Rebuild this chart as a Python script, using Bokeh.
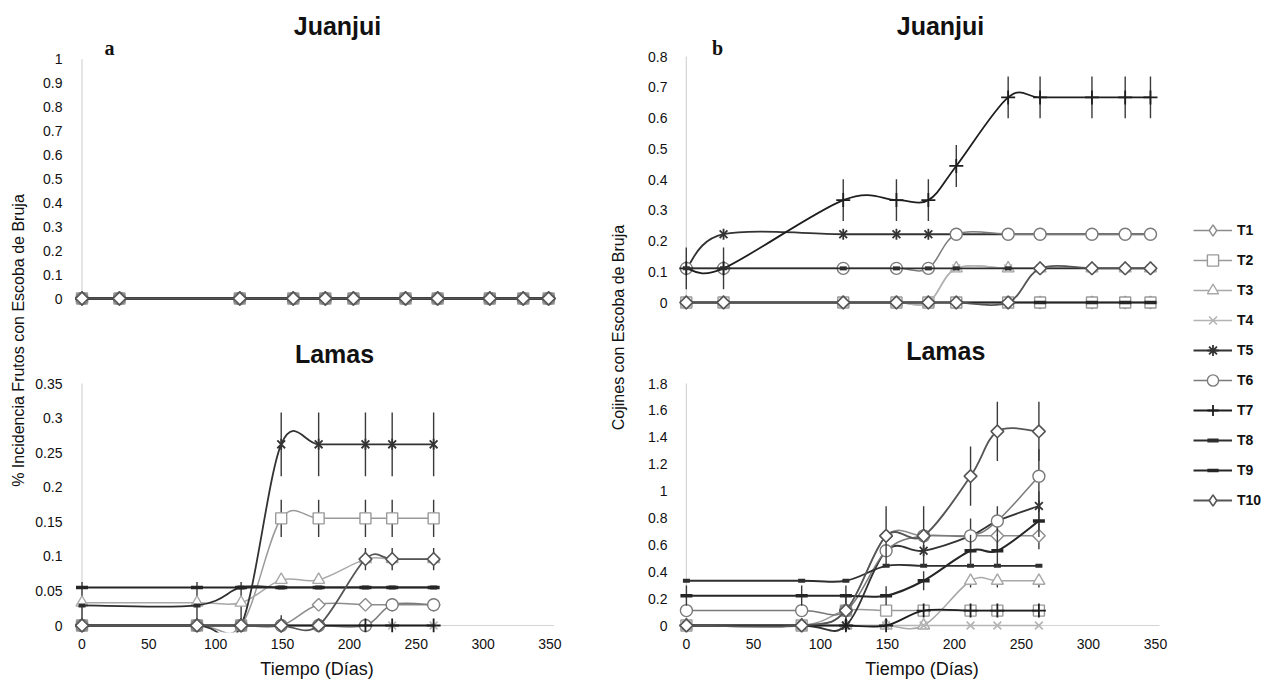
import math
from bokeh.plotting import figure
from bokeh.layouts import row, column
from bokeh.models import Range1d, FixedTicker, NumeralTickFormatter, Label, Legend, LegendItem
from bokeh.embed import file_html
from bokeh.resources import INLINE

# ---------------------------------------------------------------- data
SERIES = ["T1", "T2", "T3", "T4", "T5", "T6", "T7", "T8", "T9", "T10"]

DAYS_JUANJUI = [0, 28, 118, 158, 182, 203, 242, 266, 305, 330, 349]
DAYS_LAMAS = [0, 86, 119, 149, 177, 212, 232, 263]

# (a) % Incidencia frutos con escoba de bruja - Juanjui (T1..T10)
A_JUANJUI = [
    [0, 0, 0, 0, 0, 0, 0, 0, 0, 0, 0],
    [0, 0, 0, 0, 0, 0, 0, 0, 0, 0, 0],
    [0, 0, 0, 0, 0, 0, 0, 0, 0, 0, 0],
    [0, 0, 0, 0, 0, 0, 0, 0, 0, 0, 0],
    [0, 0, 0, 0, 0, 0, 0, 0, 0, 0, 0],
    [0, 0, 0, 0, 0, 0, 0, 0, 0, 0, 0],
    [0, 0, 0, 0, 0, 0, 0, 0, 0, 0, 0],
    [0, 0, 0, 0, 0, 0, 0, 0, 0, 0, 0],
    [0, 0, 0, 0, 0, 0, 0, 0, 0, 0, 0],
    [0, 0, 0, 0, 0, 0, 0, 0, 0, 0, 0],
]
A_JUANJUI_ERR = [
    [0, 0, 0, 0, 0, 0, 0, 0, 0, 0, 0] for _ in range(10)
]

# (a) Lamas
A_LAMAS = [
    [0, 0, 0, 0, 0.03, 0.03, 0.03, 0.03],
    [0, 0, 0, 0.155, 0.155, 0.155, 0.155, 0.155],
    [0.033, 0.033, 0.033, 0.066, 0.066, 0.096, 0.096, 0.096],
    [0, 0, 0, 0, 0, 0, 0, 0],
    [0, 0, 0, 0.262, 0.262, 0.262, 0.262, 0.262],
    [0, 0, 0, 0, 0, 0, 0.03, 0.03],
    [0, 0, 0, 0, 0, 0, 0, 0],
    [0.029, 0.029, 0.055, 0.055, 0.055, 0.055, 0.055, 0.055],
    [0.055, 0.055, 0.055, 0.055, 0.055, 0.055, 0.055, 0.055],
    [0, 0, 0, 0, 0, 0.096, 0.096, 0.096],
]
A_LAMAS_ERR = [
    [0, 0, 0, 0.015, 0, 0, 0, 0],
    [0, 0, 0, 0.027, 0.027, 0.027, 0.027, 0.027],
    [0.03, 0.03, 0.03, 0, 0, 0, 0, 0],
    [0, 0, 0, 0, 0, 0, 0, 0],
    [0, 0, 0, 0.046, 0.046, 0.046, 0.046, 0.046],
    [0, 0, 0, 0, 0, 0, 0, 0],
    [0, 0, 0, 0, 0, 0, 0, 0],
    [0, 0, 0, 0, 0, 0, 0, 0],
    [0, 0, 0, 0, 0, 0, 0, 0],
    [0, 0, 0, 0, 0, 0.016, 0.016, 0.016],
]

# (b) Cojines con escoba de bruja - Juanjui
B_JUANJUI = [
    [0, 0, 0, 0, 0, 0, 0, 0, 0, 0, 0],
    [0, 0, 0, 0, 0, 0, 0, 0, 0, 0, 0],
    [0, 0, 0, 0, 0, 0.111, 0.111, 0.111, 0.111, 0.111, 0.111],
    [0, 0, 0, 0, 0, 0.111, 0.111, 0.111, 0.111, 0.111, 0.111],
    [0.111, 0.222, 0.222, 0.222, 0.222, 0.222, 0.222, 0.222, 0.222, 0.222, 0.222],
    [0.111, 0.111, 0.111, 0.111, 0.111, 0.222, 0.222, 0.222, 0.222, 0.222, 0.222],
    [0.111, 0.111, 0.333, 0.333, 0.333, 0.444, 0.667, 0.667, 0.667, 0.667, 0.667],
    [0.111, 0.111, 0.111, 0.111, 0.111, 0.111, 0.111, 0.111, 0.111, 0.111, 0.111],
    [0, 0, 0, 0, 0, 0, 0, 0, 0, 0, 0],
    [0, 0, 0, 0, 0, 0, 0, 0.111, 0.111, 0.111, 0.111],
]
B_JUANJUI_ERR = [
    [0, 0, 0, 0, 0, 0, 0, 0, 0, 0, 0],
    [0, 0, 0, 0, 0, 0, 0, 0, 0, 0, 0],
    [0, 0, 0, 0, 0, 0, 0, 0, 0, 0, 0],
    [0, 0, 0, 0, 0, 0, 0, 0, 0, 0, 0],
    [0, 0, 0, 0, 0, 0, 0, 0, 0, 0, 0],
    [0, 0, 0, 0, 0, 0, 0, 0, 0, 0, 0],
    [0.068, 0.068, 0.068, 0.068, 0.068, 0.068, 0.068, 0.068, 0.068, 0.068, 0.068],
    [0, 0, 0, 0, 0, 0, 0, 0, 0, 0, 0],
    [0, 0, 0, 0, 0, 0, 0, 0, 0, 0, 0],
    [0, 0, 0, 0, 0, 0, 0, 0, 0, 0, 0],
]

# (b) Lamas
B_LAMAS = [
    [0, 0, 0.111, 0.667, 0.667, 0.667, 0.667, 0.667],
    [0, 0, 0.111, 0.111, 0.111, 0.111, 0.111, 0.111],
    [0, 0, 0, 0, 0, 0.333, 0.333, 0.333],
    [0, 0, 0, 0, 0, 0, 0, 0],
    [0, 0, 0, 0.556, 0.556, 0.667, 0.778, 0.889],
    [0.111, 0.111, 0.111, 0.556, 0.667, 0.667, 0.778, 1.111],
    [0, 0, 0, 0, 0.111, 0.111, 0.111, 0.111],
    [0.333, 0.333, 0.333, 0.444, 0.444, 0.444, 0.444, 0.444],
    [0.222, 0.222, 0.222, 0.222, 0.333, 0.556, 0.556, 0.778],
    [0, 0, 0.111, 0.667, 0.667, 1.111, 1.444, 1.444],
]
B_LAMAS_ERR = [
    [0, 0, 0, 0, 0, 0, 0.1, 0.1],
    [0, 0, 0, 0, 0, 0, 0, 0],
    [0, 0, 0, 0, 0, 0.05, 0.05, 0.05],
    [0, 0, 0, 0, 0, 0, 0, 0],
    [0, 0, 0, 0, 0, 0.13, 0.11, 0.11],
    [0, 0, 0.1, 0, 0, 0, 0, 0.2],
    [0, 0, 0, 0, 0, 0, 0, 0],
    [0, 0, 0, 0, 0, 0, 0, 0],
    [0.075, 0.075, 0.075, 0.07, 0.07, 0.12, 0.12, 0.12],
    [0, 0, 0, 0.22, 0.22, 0.22, 0.22, 0.22],
]

Y_TICKS_A_JUANJUI = [0, 0.1, 0.2, 0.3, 0.4, 0.5, 0.6, 0.7, 0.8, 0.9, 1]
Y_TICKS_A_LAMAS = [0, 0.05, 0.1, 0.15, 0.2, 0.25, 0.3, 0.35]
Y_TICKS_B_JUANJUI = [0, 0.1, 0.2, 0.3, 0.4, 0.5, 0.6, 0.7, 0.8]
Y_TICKS_B_LAMAS = [0, 0.2, 0.4, 0.6, 0.8, 1, 1.2, 1.4, 1.6, 1.8]
X_TICKS = [0, 50, 100, 150, 200, 250, 300, 350]

# ---------------------------------------------------------------- styles
COLORS = ["#8c8c8c", "#9a9a9a", "#a8a8a8", "#b4b4b4", "#333333",
          "#7a7a7a", "#1e1e1e", "#2e2e2e", "#262626", "#555555"]
MARKERS = ["square", "square", "triangle", "x", "x", "circle", "cross", "dash", "dash", "square"]
LEG_MARKERS = ["diamond", "square", "triangle", "x", "asterisk", "circle", "cross", "dash", "dash", "diamond"]
ANGLES = [math.pi / 4, 0, 0, 0, 0, 0, 0, 0, 0, math.pi / 4]
SIZES = [9, 11, 12, 11, 11, 12, 14, 7, 12, 9]
MARK_W = [1.4, 1.4, 1.4, 1.6, 1.8, 1.4, 1.8, 4, 3.5, 1.6]
LEG_MARK_W = [1.4, 1.4, 1.4, 1.6, 1.8, 1.4, 1.8, 4, 3.5, 1.6]
LINE_W = [1.5, 1.5, 1.5, 1.5, 1.8, 1.5, 1.8, 1.8, 2.0, 1.8]
ERR_COLOR = "#3a3a3a"

FONT = "'Liberation Sans', Arial, sans-serif"
FONT_SERIF = "'Liberation Serif', 'Times New Roman', serif"

PAGE_H = 683
AXIS_X_END = 353


def smooth_segments(xs, ys):
    """Bezier control points (Catmull-Rom) so the library draws Excel-like smoothed lines."""
    n = len(xs)
    out = {k: [] for k in ("x0", "y0", "x1", "y1", "cx0", "cy0", "cx1", "cy1")}
    for i in range(n - 1):
        a = max(i - 1, 0)
        d = min(i + 2, n - 1)
        out["x0"].append(xs[i]); out["y0"].append(ys[i])
        out["x1"].append(xs[i + 1]); out["y1"].append(ys[i + 1])
        out["cx0"].append(xs[i] + (xs[i + 1] - xs[a]) / 6.0)
        out["cy0"].append(ys[i] + (ys[i + 1] - ys[a]) / 6.0)
        out["cx1"].append(xs[i + 1] - (xs[d] - xs[i]) / 6.0)
        out["cy1"].append(ys[i + 1] - (ys[d] - ys[i]) / 6.0)
    return out


def make_panel(days, vals, errs, fig_left, fig_top, fig_w, fig_h, frame, mapping,
               yticks, show_x, title, title_xy, letter=None, letter_xy=None):
    fl, fr, ft, fb = frame
    x0, kx, y0, ky = mapping
    ix = lambda px: (px - x0) / kx
    iy = lambda py: (y0 - py) / ky
    p = figure(width=fig_w, height=fig_h,
               x_range=Range1d(ix(fl), ix(fr)), y_range=Range1d(iy(fb), iy(ft)),
               min_border_left=fl - fig_left, min_border_right=fig_left + fig_w - fr,
               min_border_top=ft - fig_top, min_border_bottom=fig_top + fig_h - fb,
               output_backend="svg", toolbar_location=None,
               x_axis_location="below" if show_x else None)
    p.grid.visible = False
    p.outline_line_color = None
    p.background_fill_color = "white"
    p.border_fill_color = "white"

    ya = p.yaxis[0]
    ya.ticker = FixedTicker(ticks=yticks)
    ya.formatter = NumeralTickFormatter(format="0.[00]")
    ya.axis_line_color = None
    ya.major_tick_line_color = None
    ya.minor_tick_line_color = None
    ya.major_tick_out = 0
    ya.major_tick_in = 0
    ya.major_label_standoff = 11
    ya.major_label_text_font = FONT
    ya.major_label_text_font_size = "14px"
    ya.major_label_text_color = "#111111"

    if show_x:
        xa = p.xaxis[0]
        xa.ticker = FixedTicker(ticks=X_TICKS)
        xa.formatter = NumeralTickFormatter(format="0")
        xa.axis_line_color = None
        xa.major_tick_line_color = None
        xa.minor_tick_line_color = None
        xa.major_tick_out = 0
        xa.major_tick_in = 0
        xa.major_label_standoff = 6
        xa.major_label_text_font = FONT
        xa.major_label_text_font_size = "14px"
        xa.major_label_text_color = "#111111"
        xa.axis_label = "Tiempo (Días)"
        xa.axis_label_standoff = 7
        xa.axis_label_text_font = FONT
        xa.axis_label_text_font_size = "18px"
        xa.axis_label_text_font_style = "normal"
        xa.axis_label_text_color = "#111111"

    # light axis lines at 0
    p.segment(x0=[0], y0=[0], x1=[0], y1=[yticks[-1]], line_color="#d4d4d4", line_width=1.2)
    p.segment(x0=[0], y0=[0], x1=[AXIS_X_END], y1=[0], line_color="#d4d4d4", line_width=1.2)

    for i in range(len(SERIES)):
        v = vals[i]
        e = errs[i]
        ex = [d for d, er in zip(days, e) if er > 0]
        elo = [vv - er for vv, er in zip(v, e) if er > 0]
        ehi = [vv + er for vv, er in zip(v, e) if er > 0]
        if ex:
            p.segment(x0=ex, y0=elo, x1=ex, y1=ehi, line_color=ERR_COLOR, line_width=1.4)
        bz = smooth_segments(days, v)
        p.bezier(line_color=COLORS[i], line_width=LINE_W[i], **bz)
        p.scatter(days, v, marker=MARKERS[i], angle=ANGLES[i], size=SIZES[i],
                  fill_color="white", line_color=COLORS[i], line_width=MARK_W[i])
        if SERIES[i] == "T5":
            p.scatter(days, v, marker="dash", angle=math.pi / 2, size=SIZES[i],
                      line_color=COLORS[i], line_width=MARK_W[i])

    tx, ty = title_xy
    p.add_layout(Label(x=ix(tx), y=iy(ty), text=title, text_align="center",
                       text_baseline="middle", text_font=FONT,
                       text_font_style="bold", text_font_size="25px", text_color="#111111"))
    if letter:
        lx, ly = letter_xy
        p.add_layout(Label(x=ix(lx), y=iy(ly), text=letter, text_align="center",
                           text_baseline="middle", text_font=FONT_SERIF,
                           text_font_style="bold", text_font_size="20px", text_color="#111111"))
    return p


def label_fig(fig_left, fig_w, text, cx, cy):
    h = PAGE_H
    p = figure(width=fig_w, height=h, x_range=Range1d(0, fig_w), y_range=Range1d(0, h),
               min_border=0, output_backend="svg", toolbar_location=None,
               x_axis_location=None, y_axis_location=None)
    p.grid.visible = False
    p.outline_line_color = None
    p.add_layout(Label(x=cx - fig_left, y=h - cy, text=text, angle=math.pi / 2,
                       text_align="center", text_baseline="middle",
                       text_font=FONT, text_font_size="16px", text_color="#111111"))
    return p


# ---------------------------------------------------------------- panels
a_top = make_panel(DAYS_JUANJUI, A_JUANJUI, A_JUANJUI_ERR, 30, 0, 570, 330,
                   (73, 560, 0, 330), (81.5, 1.337, 298, 239.3),
                   Y_TICKS_A_JUANJUI, False, "Juanjui", (337, 25), "a", (109, 47))
a_bot = make_panel(DAYS_LAMAS, A_LAMAS, A_LAMAS_ERR, 30, 330, 570, 353,
                   (73, 560, 330, 632), (81.5, 1.337, 625, 691.4),
                   Y_TICKS_A_LAMAS, True, "Lamas", (334, 353))
b_top = make_panel(DAYS_JUANJUI, B_JUANJUI, B_JUANJUI_ERR, 636, 0, 534, 330,
                   (678, 1165, 0, 330), (685.8, 1.330, 302, 307.5),
                   Y_TICKS_B_JUANJUI, False, "Juanjui", (940, 25), "b", (717, 47))
b_bot = make_panel(DAYS_LAMAS, B_LAMAS, B_LAMAS_ERR, 636, 330, 534, 353,
                   (673, 1165, 330, 632), (681, 1.354, 625, 134.4),
                   Y_TICKS_B_LAMAS, True, "Lamas", (943, 350))

lab_a = label_fig(0, 30, "% Incidencia Frutos con Escoba de Bruja", 17.5, 340)
lab_b = label_fig(600, 36, "Cojines con Escoba de Bruja", 618, 327)

# ---------------------------------------------------------------- legend
leg = figure(width=97, height=PAGE_H, x_range=Range1d(-1000, -999), y_range=Range1d(-1000, -999),
             min_border=0, output_backend="svg", toolbar_location=None,
             x_axis_location=None, y_axis_location=None)
leg.grid.visible = False
leg.outline_line_color = None
items = []
for i, name in enumerate(SERIES):
    # same series drawn off-screen, only so the legend can show its glyphs
    rl = leg.line(DAYS_LAMAS, B_LAMAS[i], line_color=COLORS[i], line_width=LINE_W[i])
    rs = leg.scatter(DAYS_LAMAS, B_LAMAS[i], marker=LEG_MARKERS[i],
                     fill_color="white", line_color=COLORS[i], line_width=LEG_MARK_W[i])
    items.append(LegendItem(label=name, renderers=[rl, rs]))
legend = Legend(items=items, location=(23, 169), glyph_width=39, glyph_height=28,
                label_height=28, spacing=2, padding=0, margin=0, label_standoff=5,
                border_line_color=None, background_fill_alpha=0,
                label_text_font=FONT, label_text_font_style="bold",
                label_text_font_size="14px", label_text_color="#111111")
leg.add_layout(legend, "center")

layout = row(lab_a, column(a_top, a_bot), lab_b, column(b_top, b_bot), leg)

open("out.html", "w").write(file_html(layout, INLINE))
